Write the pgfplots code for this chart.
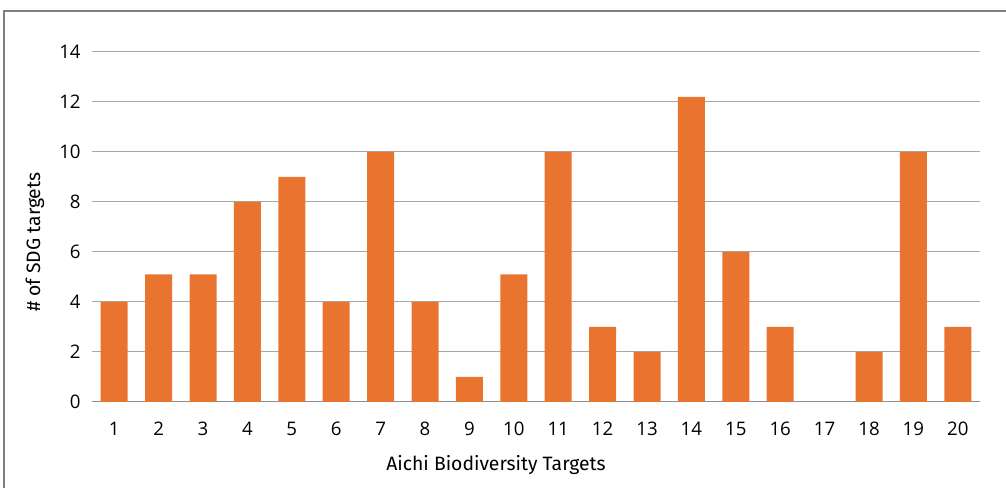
\documentclass[border=0pt]{standalone}
\usepackage{fontspec}
\setmainfont{Fira Sans}
\newfontfamily\tickfont{Open Sans}
\usepackage{pgfplots}
\pgfplotsset{compat=1.18}
\definecolor{barorange}{HTML}{E9742F}
\definecolor{gridgray}{HTML}{A6A6A6}
\definecolor{framegray}{HTML}{7F7F7F}
\begin{document}
\begin{tikzpicture}
\path[use as bounding box] (-69pt,-64.5pt) rectangle (685.5pt,301.5pt);
\draw[framegray, line width=0.9pt] (-66pt,-64.5pt) -- (-66pt,293.25pt) -- (685.5pt,293.25pt);
\begin{axis}[
  at={(0pt,0pt)}, anchor=origin,
  scale only axis,
  width=666pt, height=262.5pt,
  xmin=0.5, xmax=20.5, ymin=0, ymax=14,
  ytick={0,2,...,14},
  xtick={1,...,20},
  axis x line*=bottom,
  axis y line*=left,
  y axis line style={draw=none},
  x axis line style={gridgray!85!black, line width=0.75pt, -},
  ymajorgrids,
  grid style={gridgray, line width=0.75pt},
  major tick length=0pt,
  /pgf/number format/assume math mode=true,
  ticklabel style={font=\tickfont\fontsize{14}{16}\selectfont},
  yticklabel style={anchor=east, xshift=-5pt},
  xticklabel style={anchor=center, yshift=-20pt},
  ybar, bar width=20.25pt,
  bar shift=0pt,
  xlabel={Aichi Biodiversity Targets},
  xlabel style={at={(rel axis cs:0.455,0)}, anchor=center, yshift=-47.25pt, font=\fontsize{14.5}{16}\selectfont},
  ylabel={\# of SDG targets},
  ylabel style={at={(rel axis cs:-0.0642,0.457)}, anchor=center, font=\fontsize{14.5}{16}\selectfont},
  clip=false,
]
\addplot[fill=barorange, draw=none] coordinates {
 (1,4) (2,5.1) (3,5.1) (4,8) (5,9) (6,4) (7,10) (8,4) (9,1) (10,5.1)
 (11,10) (12,3) (13,2) (14,12.2) (15,6) (16,3) (17,0) (18,2) (19,10) (20,3)
};
\end{axis}
\end{tikzpicture}
\end{document}
